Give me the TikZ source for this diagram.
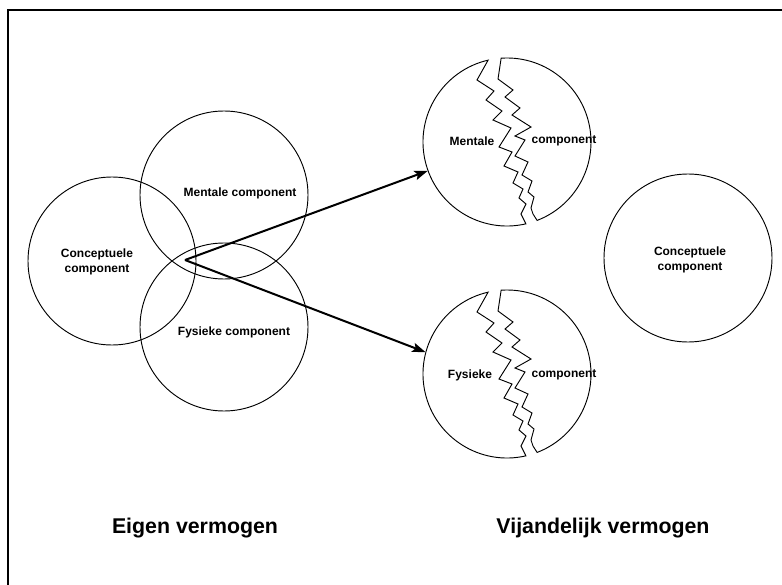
\documentclass[tikz,border=0pt]{standalone}
\usepackage{fontspec}
\setmainfont{Liberation Sans}
\usetikzlibrary{arrows.meta}
\begin{document}
\begin{tikzpicture}[x=0.75pt,y=-0.75pt,
  circ/.style={circle, draw, line width=0.7pt, minimum size=126pt, inner sep=0pt},
  ghost/.style={circle, minimum size=126pt, inner sep=0pt},
  lbl/.style={font=\fontsize{9}{11}\selectfont\bfseries, align=center, inner sep=1pt},
  ttl/.style={font=\fontsize{16}{19}\selectfont\bfseries, inner sep=0pt},
  frag/.style={draw, line width=0.7pt, line join=miter},
  arr/.style={line width=1.5pt, -{Stealth[length=10pt,width=7pt,inset=2pt]}},
  frame/.style={line width=1pt},
  broken/.pic={
    \draw[frag] (257:84) arc[start angle=257, end angle=77, radius=84]
      -- (14,72) -- (19,62) -- (12,56) -- (16,47) -- (6,41) -- (11,30) -- (-3,24)
      -- (5,10) -- (-8,5) -- (4,-14) -- (-14,-22) -- (-5,-31) -- (-21,-42)
      -- (-13,-51) -- (-30,-62) -- cycle;
    \draw[frag] (266:84) arc[start angle=266, end angle=429, radius=84]
      -- (26,72) -- (24,66) -- (27,55) -- (21,50) -- (25,39) -- (15,33) -- (21,20)
      -- (8,14) -- (18,-2) -- (8,-6) -- (24,-15) -- (5,-27) -- (13,-34) -- (-2,-45)
      -- (6,-52) -- (-9,-63) -- cycle;
  }
]
\useasboundingbox (0,0) rectangle (782,585);
% frame
\draw[frame] (8,585) -- (8,10) -- (782,10);

% left group
\node[circ] (conc) at (112,261) {};
\node[circ] (ment) at (224,195) {};
\node[circ] (fys)  at (224,327) {};
\node[lbl] (concL) at (97,262) {Conceptuele\\component};
\node[lbl] (mentL) at (240,193) {Mentale component};
\node[lbl] (fysL)  at (234,332) {Fysieke component};

% right group
\pic at (507,142) {broken};
\pic at (507,374) {broken};
\node[ghost] (mb) at (507,142) {};
\node[ghost] (fb) at (507,374) {};
\node[circ] (conc2) at (688,258) {};
\node[lbl] (mbL1) at (472,141) {Mentale};
\node[lbl] (mbL2) at (564,141) {component};
\node[lbl] (fbL1) at (470,375) {Fysieke};
\node[lbl] (fbL2) at (564,375) {component};
\node[lbl] (conc2L) at (690,260) {Conceptuele\\component};

% arrows
\coordinate (o) at (185,260);
\draw[arr] (o) -- (mb.200);
\draw[arr] (o) -- (fb.165);

% titles
\node[ttl] (eigen) at (195,528) {Eigen vermogen};
\node[ttl] (vijand) at (603,528) {Vijandelijk vermogen};
\end{tikzpicture}
\end{document}
